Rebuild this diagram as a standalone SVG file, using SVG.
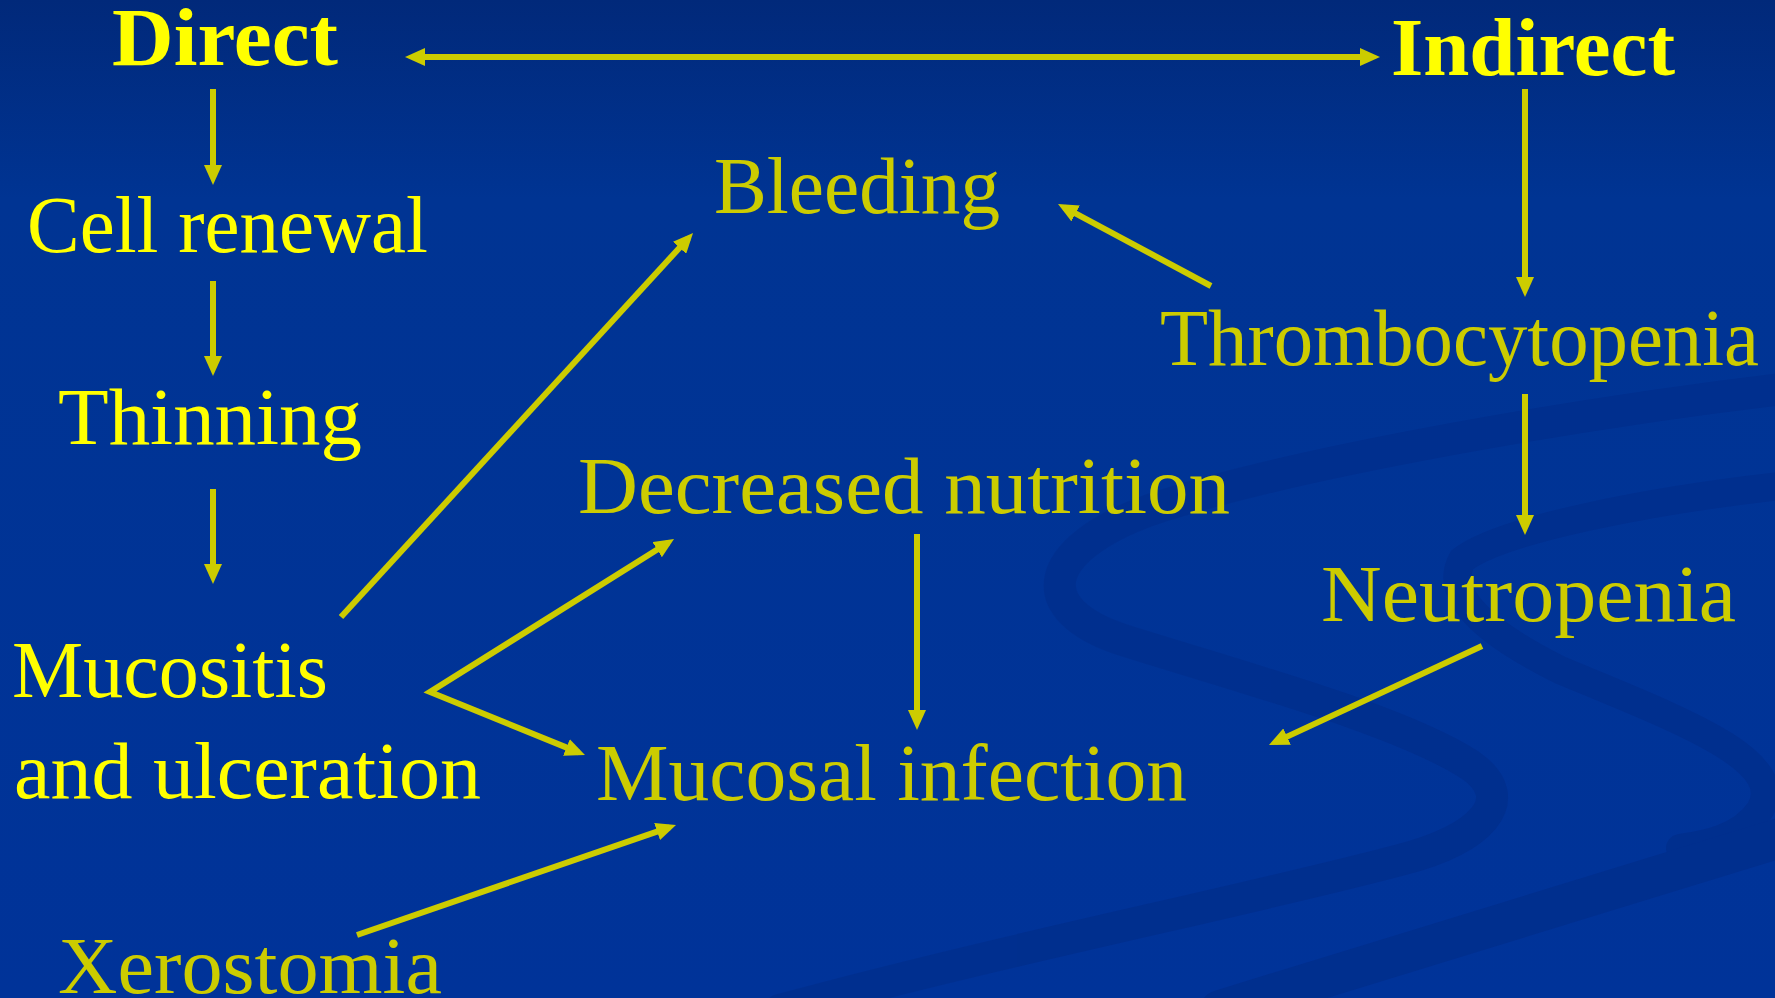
<svg xmlns="http://www.w3.org/2000/svg" width="1775" height="998" viewBox="0 0 1775 998">
<defs>
<linearGradient id="bg" x1="0" y1="0" x2="0" y2="1">
<stop offset="0" stop-color="#01297a"/>
<stop offset="0.2" stop-color="#003493"/>
<stop offset="1" stop-color="#003399"/>
</linearGradient>
<marker id="ah" viewBox="0 0 20 18" refX="13" refY="9" markerWidth="20" markerHeight="18" markerUnits="userSpaceOnUse" orient="auto-start-reverse">
<path d="M0,0 L20,9 L0,18 Z" fill="#cccc00"/>
</marker>
<style>
.bright{fill:#ffff00;font-family:"Liberation Serif","Times New Roman",serif;}
.dim{fill:#cccc00;font-family:"Liberation Serif","Times New Roman",serif;}
.head{font-weight:bold;font-size:82px;}
.reg{font-size:80px;}
.arr{stroke:#cccc00;stroke-width:6;fill:none;marker-end:url(#ah);}
.swirl{fill:none;stroke:#002f8d;stroke-linecap:round;}
</style>
</defs>
<rect width="1775" height="998" fill="url(#bg)"/>
<g id="background-swirls" opacity="0.85">
<path class="swirl" stroke-width="32" d="M1790 388 C1600 410 1300 460 1150 510 C1040 550 1030 610 1123 640 C1250 680 1400 720 1470 765 C1520 800 1480 840 1400 860 C1250 900 1000 950 780 1010"/>
<path class="swirl" stroke-width="28" d="M1790 485 C1650 500 1500 530 1462 560 C1440 600 1500 640 1560 670 C1680 720 1790 760 1760 810 C1740 840 1700 845 1680 848"/>
<path class="swirl" stroke-width="40" d="M1220 1010 L1790 835"/>
</g>
<g id="connectors">
<line class="arr" x1="412" y1="57" x2="1373" y2="57" style="marker-start:url(#ah)"/>
<line class="arr" x1="213" y1="89" x2="213" y2="178"/>
<line class="arr" x1="213" y1="281" x2="213" y2="369"/>
<line class="arr" x1="213" y1="489" x2="213" y2="577"/>
<line class="arr" x1="1525" y1="89" x2="1525" y2="290"/>
<line class="arr" x1="1525" y1="394" x2="1525" y2="528"/>
<line class="arr" x1="1211" y1="286" x2="1064.2" y2="207.3"/>
<line class="arr" x1="341" y1="617" x2="688.3" y2="238.2"/>
<polyline class="arr" points="668.1,542.7 430,692 578.5,752.4" style="marker-start:url(#ah)"/>
<line class="arr" x1="917" y1="534" x2="917" y2="723"/>
<line class="arr" x1="1482" y1="646" x2="1275.3" y2="742.1"/>
<line class="arr" x1="357" y1="935" x2="669.4" y2="827.3"/>
</g>
<g id="node-direct"><text class="bright head" x="112" y="65" textLength="226" lengthAdjust="spacingAndGlyphs">Direct</text></g>
<g id="node-indirect"><text class="bright head" x="1391" y="75" textLength="284" lengthAdjust="spacingAndGlyphs">Indirect</text></g>
<g id="node-cell-renewal"><text class="bright reg" x="27" y="252" textLength="401" lengthAdjust="spacingAndGlyphs">Cell renewal</text></g>
<g id="node-thinning"><text class="bright reg" x="58" y="444" textLength="304" lengthAdjust="spacingAndGlyphs">Thinning</text></g>
<g id="node-mucositis"><text class="bright reg" x="12" y="697" textLength="316" lengthAdjust="spacingAndGlyphs">Mucositis</text><text class="bright reg" x="14" y="798" textLength="467" lengthAdjust="spacingAndGlyphs">and ulceration</text></g>
<g id="node-xerostomia"><text class="dim reg" x="58" y="993" textLength="384" lengthAdjust="spacingAndGlyphs">Xerostomia</text></g>
<g id="node-bleeding"><text class="dim reg" x="714" y="213" textLength="286" lengthAdjust="spacingAndGlyphs">Bleeding</text></g>
<g id="node-thrombocytopenia"><text class="dim reg" x="1160" y="365" textLength="599" lengthAdjust="spacingAndGlyphs">Thrombocytopenia</text></g>
<g id="node-decreased-nutrition"><text class="dim reg" x="578" y="513" textLength="652" lengthAdjust="spacingAndGlyphs">Decreased nutrition</text></g>
<g id="node-neutropenia"><text class="dim reg" x="1321" y="621" textLength="415" lengthAdjust="spacingAndGlyphs">Neutropenia</text></g>
<g id="node-mucosal-infection"><text class="dim reg" x="596" y="800" textLength="591" lengthAdjust="spacingAndGlyphs">Mucosal infection</text></g>
</svg>
